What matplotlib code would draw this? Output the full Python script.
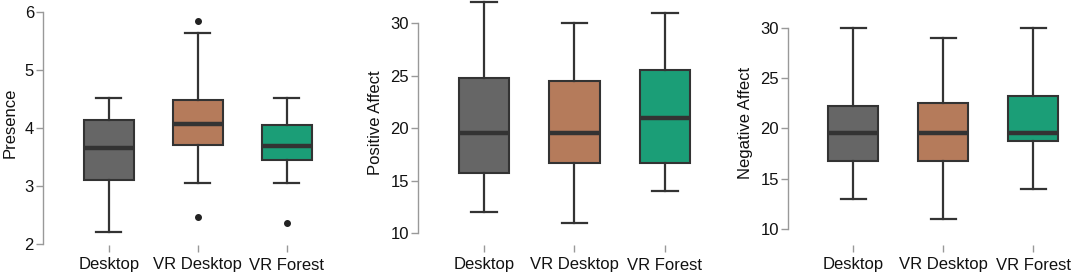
import matplotlib.pyplot as plt

plt.rcParams['font.family'] = ['Liberation Sans', 'DejaVu Sans']

groups = ['Desktop', 'VR Desktop', 'VR Forest']
colors = ['#666666', '#b57b5b', '#1b9e77']

# (whislo, q1, med, q3, whishi, outliers) per group
presence = [
    (2.20, 3.10, 3.65, 4.13, 4.52, []),
    (3.05, 3.71, 4.07, 4.49, 5.63, [5.84, 2.47]),
    (3.05, 3.45, 3.69, 4.05, 4.52, [2.36]),
]
positive = [
    (12, 15.75, 19.5, 24.75, 32, []),
    (11, 16.7, 19.5, 24.5, 30, []),
    (14, 16.7, 21.0, 25.5, 31, []),
]
negative = [
    (13, 16.75, 19.5, 22.2, 30, []),
    (11, 16.75, 19.5, 22.5, 29, []),
    (14, 18.7, 19.5, 23.25, 30, []),
]

panels = [
    ('Presence', presence, [2, 3, 4, 5, 6]),
    ('Positive Affect', positive, [10, 15, 20, 25, 30]),
    ('Negative Affect', negative, [10, 15, 20, 25, 30]),
]

W, H = 1072, 275
fig = plt.figure(figsize=(W / 100, H / 100), dpi=100)

# pixel layout: left, right of axes, xlim, ylim
layout = [
    (43, 342, (0.26, 3.62), (1.983, 6.207)),
    (418, 721, (0.272, 3.62), (8.855, 32.22)),
    (788, 1072, (0.276, 3.43), (8.375, 32.79)),
]

for (ylabel, data, yt), (x0, x1, xl, yl) in zip(panels, layout):
    ax = fig.add_axes([x0 / W, 30 / H, (x1 - x0) / W, 245 / H])
    stats = []
    for g, d in zip(groups, data):
        stats.append(dict(label=g, whislo=d[0], q1=d[1], med=d[2],
                          q3=d[3], whishi=d[4], fliers=d[5]))
    bp = ax.bxp(stats, widths=0.56, patch_artist=True,
                boxprops=dict(edgecolor='#333333', linewidth=1.5),
                whiskerprops=dict(color='#333333', linewidth=1.6),
                capprops=dict(color='#333333', linewidth=1.6),
                medianprops=dict(color='#333333', linewidth=3.2),
                flierprops=dict(marker='o', markersize=4,
                                markerfacecolor='#222222',
                                markeredgecolor='#222222'))
    for patch, c in zip(bp['boxes'], colors):
        patch.set_facecolor(c)
    ax.set_xlim(*xl)
    ax.set_ylim(*yl)
    ax.set_yticks(yt)
    for s in ['top', 'right', 'bottom']:
        ax.spines[s].set_visible(False)
    ax.spines['left'].set_bounds(yt[0], yt[-1])
    ax.spines['left'].set_color('#999999')
    ax.spines['left'].set_linewidth(1.0)
    ax.tick_params(axis='y', length=5, width=1.0, color='#999999',
                   labelsize=12, pad=1.5, labelcolor='#111111')
    ax.tick_params(axis='x', length=5, width=1.0, color='#999999',
                   labelsize=12, pad=4, labelcolor='#111111')
    ax.set_ylabel(ylabel, fontsize=12, labelpad=5, color='#111111')
    ax.patch.set_alpha(0)

fig.savefig('out.png', dpi=100)
